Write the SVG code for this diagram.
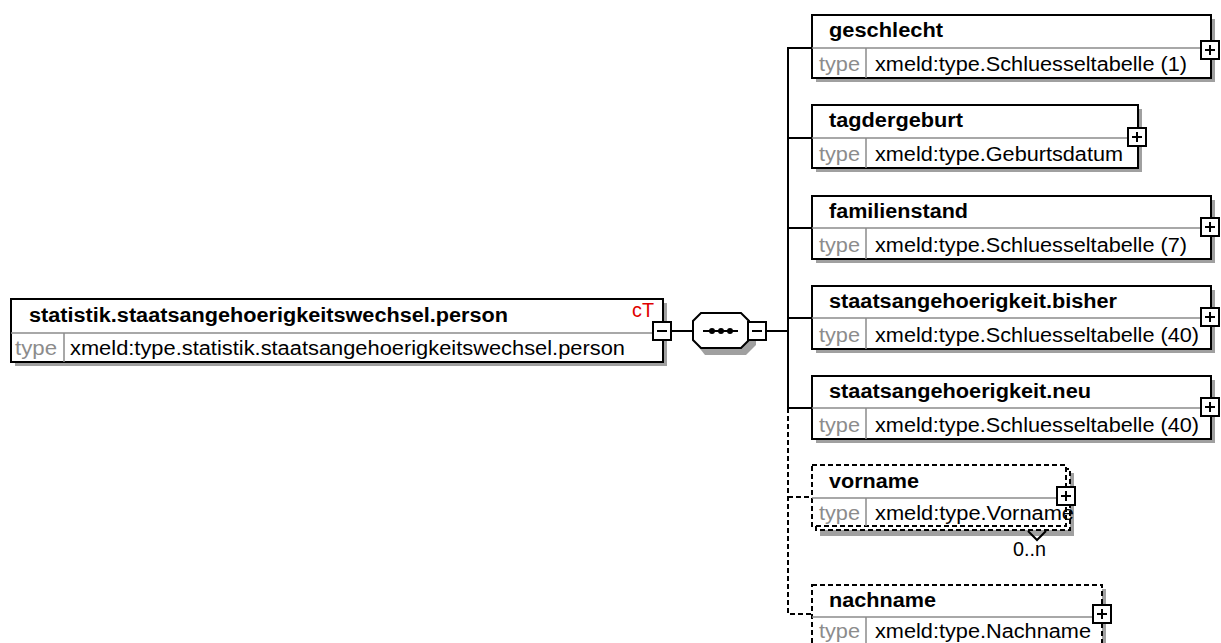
<svg xmlns="http://www.w3.org/2000/svg" width="1221" height="643" viewBox="0 0 1221 643">
<style>
.bg{fill:#fff}
.shadow{fill:#a0a0a0}
.box{fill:#fff;stroke:#000;stroke-width:2}
.dbox{fill:#fff;stroke:#000;stroke-width:2;stroke-dasharray:5,3}
.dline{fill:none;stroke:#000;stroke-width:2;stroke-dasharray:5,3}
.div{stroke:#8c8c8c;stroke-width:1.5;fill:none}
.title{font-family:"Liberation Sans",Arial,sans-serif;font-weight:bold;font-size:19.5px;fill:#000}
.val{font-family:"Liberation Sans",Arial,sans-serif;font-size:19.5px;fill:#000}
.type{font-family:"Liberation Sans",Arial,sans-serif;font-size:19.5px;fill:#8c8c8c}
.ct{font-family:"Liberation Sans",Arial,sans-serif;font-size:19.5px;fill:#e00000}
.conn{stroke:#000;stroke-width:2;fill:none}
.btn{fill:#fff;stroke:#000;stroke-width:2}
.sign{stroke:#000;stroke-width:2}
</style>
<defs>
<g id="plus"><rect class="btn" x="-9" y="-9" width="18" height="18"/><path class="sign" d="M-5,0H5M0,-5V5"/></g>
<g id="minus"><rect class="btn" x="-9" y="-9" width="18" height="18"/><path class="sign" d="M-5,0H5"/></g>
</defs>
<rect class="bg" x="0" y="0" width="1221" height="643"/>

<g id="connectors">
<path class="conn" d="M672,331H694"/>
<path class="conn" d="M766,331H788"/>
<path class="conn" d="M788,47V408"/>
<path class="conn" d="M788,48H812M788,138H812M788,228H812M788,318H812M788,408H812"/>
<path class="dline" d="M788,408V614H812M788,497H812"/>
</g>

<g id="main">
<rect class="shadow" x="15" y="303" width="652" height="63"/>
<rect class="box" x="11" y="299" width="652" height="63"/>
<path class="div" d="M11,333H663M64,333V362"/>
<text class="title" x="29" y="322" textLength="479" lengthAdjust="spacingAndGlyphs">statistik.staatsangehoerigkeitswechsel.person</text>
<text class="type" x="15" y="355" textLength="42" lengthAdjust="spacingAndGlyphs">type</text>
<text class="val" x="70" y="355" textLength="555" lengthAdjust="spacingAndGlyphs">xmeld:type.statistik.staatsangehoerigkeitswechsel.person</text>
<text class="ct" x="632" y="317" textLength="22" lengthAdjust="spacingAndGlyphs">cT</text>
<use href="#minus" x="662" y="331"/>
</g>

<g id="sequence">
<path class="shadow" d="M705,317H746L756,327V345L746,355H705L697,345V327Z"/>
<path class="box" d="M701,313H741L749,321V340L741,348H701L693,340V321Z"/>
<path class="sign" d="M703,331H738"/>
<circle cx="712" cy="331" r="3"/>
<circle cx="721" cy="331" r="3"/>
<circle cx="730" cy="331" r="3"/>
<use href="#minus" x="757" y="331"/>
</g>

<g id="geschlecht">
<rect class="shadow" x="816" y="19" width="399" height="63"/>
<rect class="box" x="812" y="15" width="399" height="63"/>
<path class="div" d="M812,48H1211M866,48V78"/>
<text class="title" x="829" y="37" textLength="114" lengthAdjust="spacingAndGlyphs">geschlecht</text>
<text class="type" x="819" y="71" textLength="41" lengthAdjust="spacingAndGlyphs">type</text>
<text class="val" x="875" y="71" textLength="312" lengthAdjust="spacingAndGlyphs">xmeld:type.Schluesseltabelle (1)</text>
<use href="#plus" x="1210" y="50"/>
</g>

<g id="tagdergeburt">
<rect class="shadow" x="816" y="109" width="326" height="63"/>
<rect class="box" x="812" y="105" width="326" height="63"/>
<path class="div" d="M812,138H1138M866,138V168"/>
<text class="title" x="829" y="127" textLength="134" lengthAdjust="spacingAndGlyphs">tagdergeburt</text>
<text class="type" x="819" y="161" textLength="41" lengthAdjust="spacingAndGlyphs">type</text>
<text class="val" x="875" y="161" textLength="248" lengthAdjust="spacingAndGlyphs">xmeld:type.Geburtsdatum</text>
<use href="#plus" x="1137" y="137"/>
</g>

<g id="familienstand">
<rect class="shadow" x="816" y="200" width="399" height="63"/>
<rect class="box" x="812" y="196" width="399" height="63"/>
<path class="div" d="M812,228H1211M866,228V259"/>
<text class="title" x="829" y="218" textLength="139" lengthAdjust="spacingAndGlyphs">familienstand</text>
<text class="type" x="819" y="252" textLength="41" lengthAdjust="spacingAndGlyphs">type</text>
<text class="val" x="875" y="252" textLength="312" lengthAdjust="spacingAndGlyphs">xmeld:type.Schluesseltabelle (7)</text>
<use href="#plus" x="1210" y="227"/>
</g>

<g id="staatsangehoerigkeit-bisher">
<rect class="shadow" x="816" y="290" width="399" height="63"/>
<rect class="box" x="812" y="286" width="399" height="63"/>
<path class="div" d="M812,318H1211M866,318V349"/>
<text class="title" x="829" y="308" textLength="288" lengthAdjust="spacingAndGlyphs">staatsangehoerigkeit.bisher</text>
<text class="type" x="819" y="342" textLength="41" lengthAdjust="spacingAndGlyphs">type</text>
<text class="val" x="875" y="342" textLength="324" lengthAdjust="spacingAndGlyphs">xmeld:type.Schluesseltabelle (40)</text>
<use href="#plus" x="1210" y="317"/>
</g>

<g id="staatsangehoerigkeit-neu">
<rect class="shadow" x="816" y="380" width="399" height="63"/>
<rect class="box" x="812" y="376" width="399" height="63"/>
<path class="div" d="M812,408H1211M866,408V439"/>
<text class="title" x="829" y="398" textLength="262" lengthAdjust="spacingAndGlyphs">staatsangehoerigkeit.neu</text>
<text class="type" x="819" y="432" textLength="41" lengthAdjust="spacingAndGlyphs">type</text>
<text class="val" x="875" y="432" textLength="324" lengthAdjust="spacingAndGlyphs">xmeld:type.Schluesseltabelle (40)</text>
<use href="#plus" x="1210" y="407"/>
</g>

<g id="vorname">
<rect class="shadow" x="820" y="473" width="254" height="63"/>
<rect class="dbox" x="816" y="469" width="254" height="61"/>
<rect class="dbox" x="812" y="465" width="254" height="61"/>
<path class="div" d="M812,498H1066M866,498V526"/>
<text class="title" x="829" y="488" textLength="90" lengthAdjust="spacingAndGlyphs">vorname</text>
<text class="type" x="819" y="520" textLength="41" lengthAdjust="spacingAndGlyphs">type</text>
<text class="val" x="875" y="520" textLength="199" lengthAdjust="spacingAndGlyphs">xmeld:type.Vorname</text>
<use href="#plus" x="1066" y="496"/>
<path class="conn" d="M1028,531L1037,540L1046,531"/>
<text class="val" x="1013" y="556" textLength="33" lengthAdjust="spacingAndGlyphs">0..n</text>
</g>

<g id="nachname">
<rect class="shadow" x="816" y="589" width="290" height="63"/>
<rect class="dbox" x="812" y="585" width="290" height="63"/>
<path class="div" d="M812,617H1102M866,617V648"/>
<text class="title" x="829" y="607" textLength="107" lengthAdjust="spacingAndGlyphs">nachname</text>
<text class="type" x="819" y="638" textLength="41" lengthAdjust="spacingAndGlyphs">type</text>
<text class="val" x="875" y="638" textLength="216" lengthAdjust="spacingAndGlyphs">xmeld:type.Nachname</text>
<use href="#plus" x="1102" y="614"/>
</g>
</svg>
